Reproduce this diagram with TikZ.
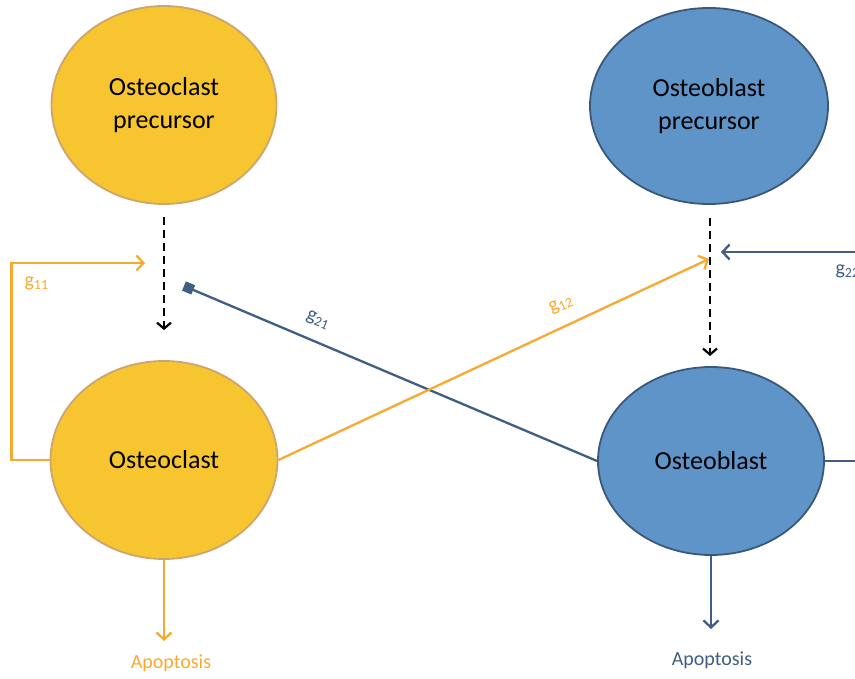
\documentclass[tikz,border=0pt]{standalone}
\usepackage{fontspec}
\setmainfont{Carlito}
\usetikzlibrary{shapes.geometric,arrows.meta}
\definecolor{cyel}{HTML}{F6C530}
\definecolor{cyelb}{HTML}{CDA56E}
\definecolor{cblu}{HTML}{5E94C8}
\definecolor{cblub}{HTML}{3B5878}
\definecolor{corg}{HTML}{F8AA30}
\definecolor{cdblu}{HTML}{3F5E82}
\begin{document}
\begin{tikzpicture}[x=1pt,y=-1pt,
  cell/.style={ellipse,draw,line width=1.8pt,inner sep=0pt,align=center,
    font=\fontsize{26}{33}\selectfont},
  ycell/.style={cell,fill=cyel,draw=cyelb},
  bcell/.style={cell,fill=cblu,draw=cblub},
  dasharrow/.style={draw=black,line width=2.2pt,dash pattern=on 8pt off 5pt,
    -{Straight Barb[length=6pt,width=14pt,line width=2.2pt]}},
  oline/.style={draw=corg,line width=2.3pt},
  bline/.style={draw=cdblu,line width=2.3pt},
  otip/.style={-{Straight Barb[length=7pt,width=15pt,line width=2.3pt]}},
  glab/.style={font=\fontsize{20}{24}\selectfont},
  apo/.style={font=\fontsize{20}{24}\selectfont}
]
\useasboundingbox (0,0) rectangle (855,679);
\clip (0,0) rectangle (855,679);
\fill[white] (0,0) rectangle (855,679);

\node[ycell,minimum width=225pt,minimum height=198pt] (ocp) at (164,105) {Osteoclast\\precursor};
\node[ycell,minimum width=227pt,minimum height=198pt] (oc) at (164,460) {Osteoclast};
\node[bcell,minimum width=238pt,minimum height=196pt] (obp) at (709,106) {Osteoblast\\precursor};
\node[bcell,minimum width=226pt,minimum height=188pt] (ob) at (711,461) {Osteoblast};

\coordinate (g11end) at (145,263);
\coordinate (diam) at (184,286);
\coordinate (g12end) at (709,259);
\coordinate (g22end) at (721,252);
\coordinate (apo1end) at (164,641);
\coordinate (apo2end) at (711,629);
\coordinate (d2top) at (710,218);
\coordinate (d2bot) at (710,356);

% dashed transitions
\draw[dasharrow] ([yshift=-12pt]ocp.south) -- ([yshift=30pt]oc.north);
\draw[dasharrow] (d2top) -- (d2bot);

% g11
\draw[oline,otip] (oc.west) -- ++(-38,0) |- (g11end);
\node[glab,text=corg,anchor=west] (l11) at (21,283) {g\textsubscript{11}};

% g21
\draw[bline,-{Square[length=10pt,width=10pt]}] (ob.west) -- (diam);
\node[glab,text=cdblu,rotate=-23] (l21) at (318,320) {g\textsubscript{21}};

% g12
\draw[oline,otip] (oc.east) -- (g12end);
\node[glab,text=corg,rotate=24] (l12) at (561,305) {g\textsubscript{12}};

% g22
\draw[bline,otip] (ob.east) -- ++(40,0) |- (g22end);
\node[glab,text=cdblu,anchor=west] (l22) at (832,271) {g\textsubscript{22}};

% apoptosis
\node[apo,text=corg] (apo1) at (171,663) {Apoptosis};
\node[apo,text=cdblu] (apo2) at (712,660) {Apoptosis};
\draw[oline,otip] (oc.south) -- (apo1end);
\draw[bline,otip] (ob.south) -- (apo2end);
\end{tikzpicture}
\end{document}
